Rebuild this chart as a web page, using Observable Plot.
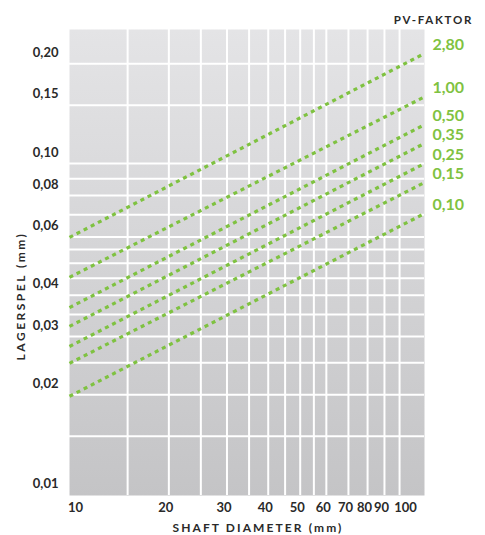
<!DOCTYPE html>
<html>
<head>
<meta charset="utf-8">
<script src="https://cdn.jsdelivr.net/npm/d3@7"></script>
<script src="https://cdn.jsdelivr.net/npm/@observablehq/plot@0.6"></script>
<style>
  html, body { margin: 0; padding: 0; background: #ffffff; }
  #chart { width: 485px; height: 535px; }
</style>
</head>
<body>
<div id="chart"></div>
<script>
// PV-factor series: clearance (mm) read at shaft diameter 10 mm and at the right edge (~119 mm)
const pvLabels = ["2,80", "1,00", "0,50", "0,35", "0,25", "0,15", "0,10"];
const xEnds = [10, 119];
const clearanceStart = [0.0598, 0.0453, 0.0367, 0.0322, 0.0280, 0.0249, 0.0198];
const clearanceEnd = [0.215, 0.159, 0.131, 0.115, 0.100, 0.0876, 0.0706];

// Axis ticks and grid
const xTicks = [10, 20, 30, 40, 50, 60, 70, 80, 90, 100];
const xGrid = [15, 20, 25, 30, 35, 40, 45, 50, 55, 60, 70, 80, 90, 100];
const yTicks = [0.01, 0.02, 0.03, 0.04, 0.06, 0.08, 0.10, 0.15, 0.20];
const yGrid = [0.015, 0.02, 0.025, 0.03, 0.035, 0.04, 0.045, 0.05, 0.055, 0.06, 0.07, 0.08, 0.09, 0.10, 0.15, 0.20];

const xTitle = "SHAFT DIAMETER (mm)";
const yTitle = "LAGERSPEL (mm)";
const legendTitle = "PV-FAKTOR";

const lineRows = [];
pvLabels.forEach((label, i) => {
  lineRows.push({label, d: xEnds[0], c: clearanceStart[i]});
  lineRows.push({label, d: xEnds[1], c: clearanceEnd[i]});
});
const endRows = pvLabels.map((label, i) => ({label, d: xEnds[1], c: clearanceEnd[i]}));

const fmt = v => v.toFixed(2).replace(".", ",");
const font = "Lato, sans-serif";
const green = "#7fc241";
const ink = "#2a2a2a";
const tickStyle = {fontSize: 13, fontWeight: "bold", fontFamily: font, fill: ink, letterSpacing: "-0.3px"};

const chart = Plot.plot({
  width: 485,
  height: 535,
  marginLeft: 69,
  marginRight: 61,
  marginTop: 29,
  marginBottom: 40,
  style: {background: "#ffffff", color: ink},
  x: {type: "log", domain: [10, 119], axis: null},
  y: {type: "log", domain: [0.00993, 0.254], axis: null},
  marks: [
    Plot.frame({fill: "url(#bggrad)", stroke: "none"}),
    Plot.ruleX(xGrid, {stroke: "#ffffff", strokeWidth: 2}),
    Plot.ruleY(yGrid, {stroke: "#ffffff", strokeWidth: 2}),
    Plot.line(lineRows, {
      x: "d", y: "c", z: "label",
      stroke: green, strokeWidth: 3.2, strokeDasharray: "4,4", strokeLinecap: "butt"
    }),
    Plot.text(endRows, {
      x: "d", y: "c", text: "label",
      textAnchor: "start", dx: 8, dy: -9,
      fill: green, fontSize: 16, fontWeight: "bold", fontFamily: font, letterSpacing: "2.6px"
    }),
    // y tick labels
    Plot.text(yTicks, {
      y: d => d, frameAnchor: "left", text: fmt, textAnchor: "end", dx: -11, dy: -11, ...tickStyle
    }),
    // x tick labels (ends nudged outward, middle ones slightly left, as in the original)
    Plot.text(xTicks.slice(0, 1), {
      x: d => d, frameAnchor: "bottom", text: d => String(d), dx: 6, dy: 16, ...tickStyle
    }),
    Plot.text(xTicks.slice(1, -1), {
      x: d => d, frameAnchor: "bottom", text: d => String(d), dx: -3, dy: 16, ...tickStyle
    }),
    Plot.text(xTicks.slice(-1), {
      x: d => d, frameAnchor: "bottom", text: d => String(d), dx: 6, dy: 16, ...tickStyle
    })
  ]
});

const svg = d3.select(chart);
// gradient background definition
const defs = svg.insert("defs", ":first-child");
const grad = defs.append("linearGradient")
  .attr("id", "bggrad").attr("x1", 0).attr("y1", 0).attr("x2", 0).attr("y2", 1);
grad.append("stop").attr("offset", "0%").attr("stop-color", "#e4e4e6");
grad.append("stop").attr("offset", "100%").attr("stop-color", "#c4c4c6");

// titles
const titles = svg.append("g")
  .attr("font-family", font).attr("font-weight", "bold").attr("fill", ink);
titles.append("text")
  .attr("x", 258).attr("y", 528).attr("dy", "0.35em").attr("text-anchor", "middle")
  .attr("font-size", 12).attr("letter-spacing", "2.1px").text(xTitle);
titles.append("text")
  .attr("transform", "translate(21,296) rotate(-90)").attr("dy", "0.35em").attr("text-anchor", "middle")
  .attr("font-size", 12).attr("letter-spacing", "2.5px").text(yTitle);
titles.append("text")
  .attr("x", 473).attr("y", 20).attr("dy", "0.35em").attr("text-anchor", "end")
  .attr("font-size", 11.5).attr("letter-spacing", "1.7px").text(legendTitle);

document.getElementById("chart").appendChild(chart);
</script>
</body>
</html>
